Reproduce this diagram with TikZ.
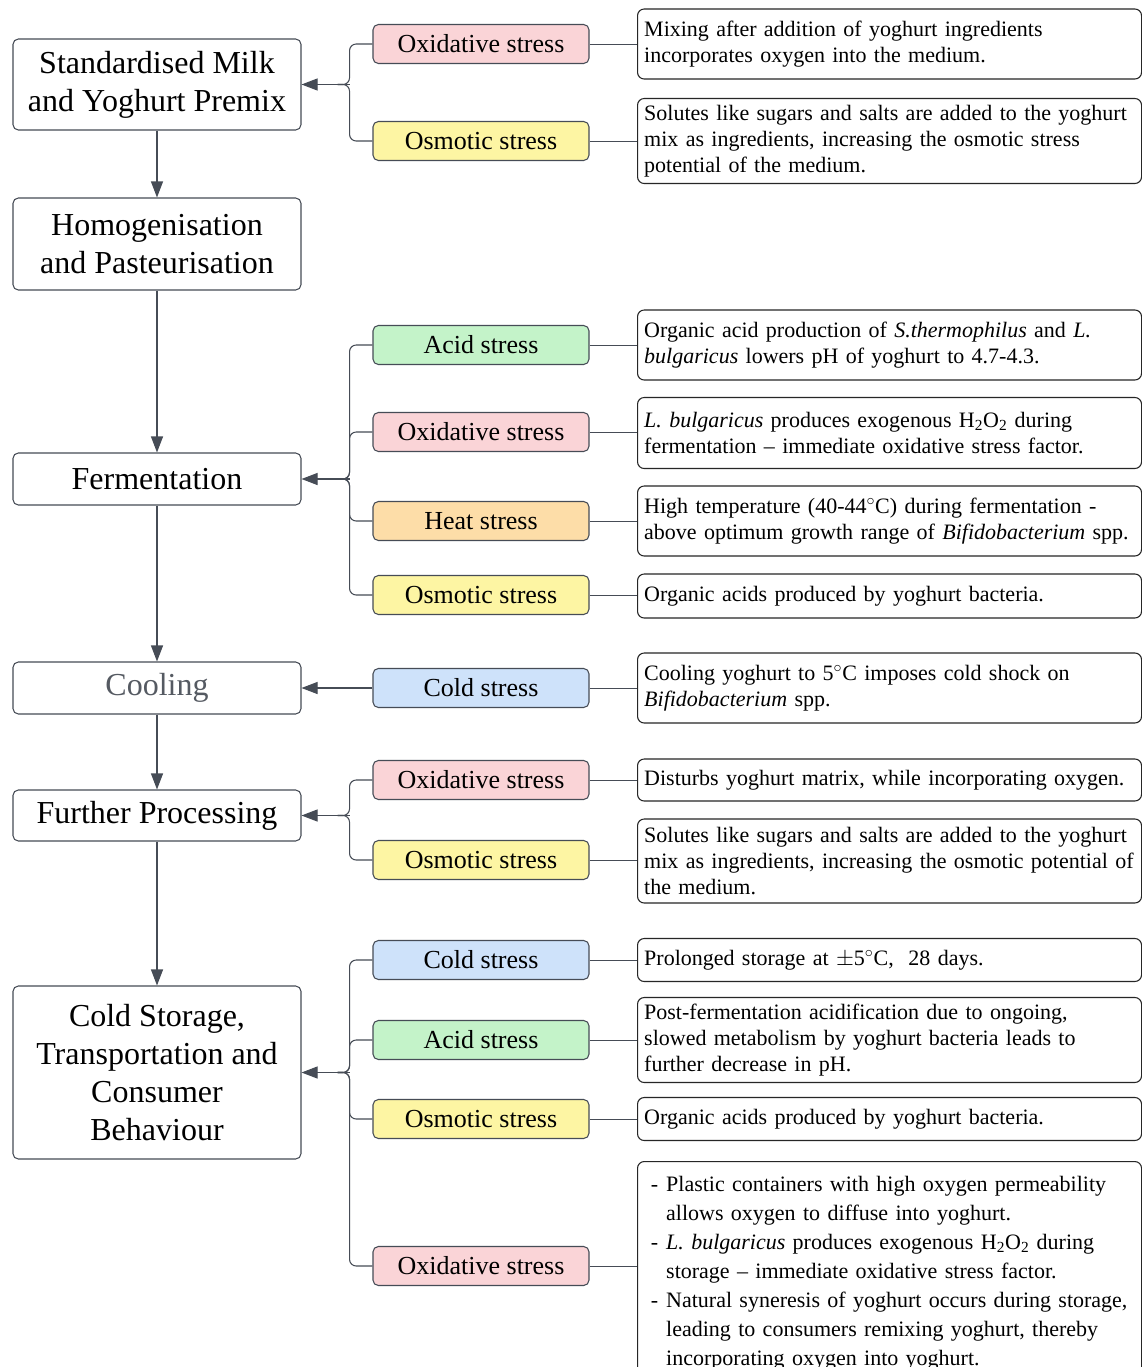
\documentclass[tikz,border=0pt]{standalone}
\usepackage{fontspec}
\setmainfont{Liberation Serif}
\usetikzlibrary{arrows.meta}

\definecolor{edge}{RGB}{70,76,86}
\definecolor{oxfill}{RGB}{250,212,215}
\definecolor{osfill}{RGB}{253,245,163}
\definecolor{acfill}{RGB}{196,243,201}
\definecolor{hefill}{RGB}{253,221,168}
\definecolor{cofill}{RGB}{206,226,250}
\definecolor{dimtext}{RGB}{85,90,98}

\begin{document}
\begin{tikzpicture}[x=0.75pt,y=-0.75pt,
    stage/.style={draw=edge,line width=0.8pt,rounded corners=4pt,minimum width=216pt,align=center,font=\fontsize{24}{28.5}\selectfont},
    stress/.style={draw=edge,line width=0.8pt,rounded corners=4pt,minimum width=162pt,minimum height=29.25pt,font=\fontsize{19.5}{22}\selectfont},
    info/.style={draw=black!85,line width=0.8pt,rounded corners=5pt,text width=368pt,inner xsep=5pt,align=left,anchor=west,font=\fontsize{16.5}{19.5}\selectfont},
    flow/.style={draw=edge,line width=0.8pt,-{Triangle[length=12pt,width=9pt]}},
    branch/.style={draw=edge,line width=0.8pt,rounded corners=5pt},
    tie/.style={draw=edge,line width=0.6pt}]
    \path[fill=white] (0,0) rectangle (1142,1367);
    \useasboundingbox (0,0) rectangle (1142,1367);

    % process stages
    \node[stage,minimum height=68.25pt] (std) at (157,84.5) {Standardised Milk\\and Yoghurt Premix};
    \node[stage,minimum height=69pt] (homog) at (157,244) {Homogenisation\\and Pasteurisation};
    \node[stage,minimum height=39pt] (ferm) at (157,479) {Fermentation};
    \node[stage,minimum height=39pt,text=dimtext] (cool) at (157,688) {Cooling};
    \node[stage,minimum height=38.25pt] (further) at (157,815.5) {Further Processing};
    \node[stage,minimum height=129.75pt] (storage) at (157,1072.5) {Cold Storage,\\Transportation and\\Consumer\\Behaviour};

    \draw[flow] (std) -- (homog);
    \draw[flow] (homog) -- (ferm);
    \draw[flow] (ferm) -- (cool);
    \draw[flow] (cool) -- (further);
    \draw[flow] (further) -- (storage);

    % stresses
    \node[stress,fill=oxfill] (s1ox) at (481,44) {Oxidative stress};
    \node[stress,fill=osfill] (s1os) at (481,141) {Osmotic stress};
    \node[stress,fill=acfill] (s2ac) at (481,345) {Acid stress};
    \node[stress,fill=oxfill] (s2ox) at (481,432) {Oxidative stress};
    \node[stress,fill=hefill] (s2he) at (481,521) {Heat stress};
    \node[stress,fill=osfill] (s2os) at (481,595) {Osmotic stress};
    \node[stress,fill=cofill] (s3co) at (481,688) {Cold stress};
    \node[stress,fill=oxfill] (s4ox) at (481,780) {Oxidative stress};
    \node[stress,fill=osfill] (s4os) at (481,860) {Osmotic stress};
    \node[stress,fill=cofill] (s5co) at (481,960) {Cold stress};
    \node[stress,fill=acfill] (s5ac) at (481,1040) {Acid stress};
    \node[stress,fill=osfill] (s5os) at (481,1119) {Osmotic stress};
    \node[stress,fill=oxfill] (s5ox) at (481,1266) {Oxidative stress};

    % descriptions
    \node[info,minimum height=52.5pt] (d1ox) at (637,44) {Mixing after addition of yoghurt ingredients\\incorporates oxygen into the medium.};
    \node[info,minimum height=63.75pt] (d1os) at (637,141) {Solutes like sugars and salts are added to the yoghurt\\mix as ingredients, increasing the osmotic stress\\potential of the medium.};
    \node[info,minimum height=52.5pt] (d2ac) at (637,345) {Organic acid production of \textit{S.thermophilus} and \textit{L.}\\\textit{bulgaricus} lowers pH of yoghurt to 4.7-4.3.};
    \node[info,minimum height=53.25pt] (d2ox) at (637,433) {\textit{L. bulgaricus} produces exogenous H\textsubscript{2}O\textsubscript{2} during\\fermentation -- immediate oxidative stress factor.};
    \node[info,minimum height=52.5pt] (d2he) at (637,521) {High temperature (40-44$^\circ$C) during fermentation -\\above optimum growth range of \textit{Bifidobacterium} spp.};
    \node[info,minimum height=33pt] (d2os) at (637,596) {Organic acids produced by yoghurt bacteria.};
    \node[info,minimum height=52.5pt] (d3co) at (637,688) {Cooling yoghurt to 5$^\circ$C imposes cold shock on\\\textit{Bifidobacterium} spp.};
    \node[info,minimum height=31.5pt] (d4ox) at (637,780) {Disturbs yoghurt matrix, while incorporating oxygen.};
    \node[info,minimum height=63pt] (d4os) at (637,861) {Solutes like sugars and salts are added to the yoghurt\\mix as ingredients, increasing the osmotic potential of\\the medium.};
    \node[info,minimum height=32.25pt] (d5co) at (637,960) {Prolonged storage at $\pm$5$^\circ$C,~ 28 days.};
    \node[info,minimum height=63.75pt] (d5ac) at (637,1040) {Post-fermentation acidification due to ongoing,\\slowed metabolism by yoghurt bacteria leads to\\further decrease in pH.};
    \node[info,minimum height=32.25pt] (d5os) at (637,1119) {Organic acids produced by yoghurt bacteria.};
    \node[info,anchor=north west,inner ysep=7pt,font=\fontsize{16.5}{21.75}\selectfont] (d5ox) at (637,1161) {%
      \begin{tabular}{@{\hspace{5pt}}l@{\hspace{6pt}}l@{}}
        - & Plastic containers with high oxygen permeability\\
          & allows oxygen to diffuse into yoghurt.\\
        - & \textit{L. bulgaricus} produces exogenous H\textsubscript{2}O\textsubscript{2} during\\
          & storage -- immediate oxidative stress factor.\\
        - & Natural syneresis of yoghurt occurs during storage,\\
          & leading to consumers remixing yoghurt, thereby\\
          & incorporating oxygen into yoghurt.
      \end{tabular}};

    % stress to description
    \foreach \s/\d in {s1ox/d1ox,s1os/d1os,s2ac/d2ac,s2ox/d2ox,s2he/d2he,s2os/d2os,s3co/d3co,
                       s4ox/d4ox,s4os/d4os,s5co/d5co,s5ac/d5ac,s5os/d5os,s5ox/d5ox}
        \draw[tie] (\s.east) -- (\s.east -| \d.west);

    % stress to stage
    \coordinate (j1) at ([xshift=36pt]std.east);
    \coordinate (j2) at ([xshift=36pt]ferm.east);
    \coordinate (j4) at ([xshift=36pt]further.east);
    \coordinate (j5) at ([xshift=36pt]storage.east);
    \foreach \s in {s1ox,s1os}
        \draw[branch] (\s.west) -| (j1) -- ++(-12,0);
    \foreach \s in {s2ac,s2ox,s2he,s2os}
        \draw[branch] (\s.west) -| (j2) -- ++(-12,0);
    \foreach \s in {s4ox,s4os}
        \draw[branch] (\s.west) -| (j4) -- ++(-12,0);
    \foreach \s in {s5co,s5ac,s5os,s5ox}
        \draw[branch] (\s.west) -| (j5) -- ++(-12,0);
    \draw[flow] (j1) -- (std.east);
    \draw[flow] (j2) -- (ferm.east);
    \draw[flow] (s3co) -- (cool);
    \draw[flow] (j4) -- (further.east);
    \draw[flow] (j5) -- (storage.east);
\end{tikzpicture}
\end{document}
